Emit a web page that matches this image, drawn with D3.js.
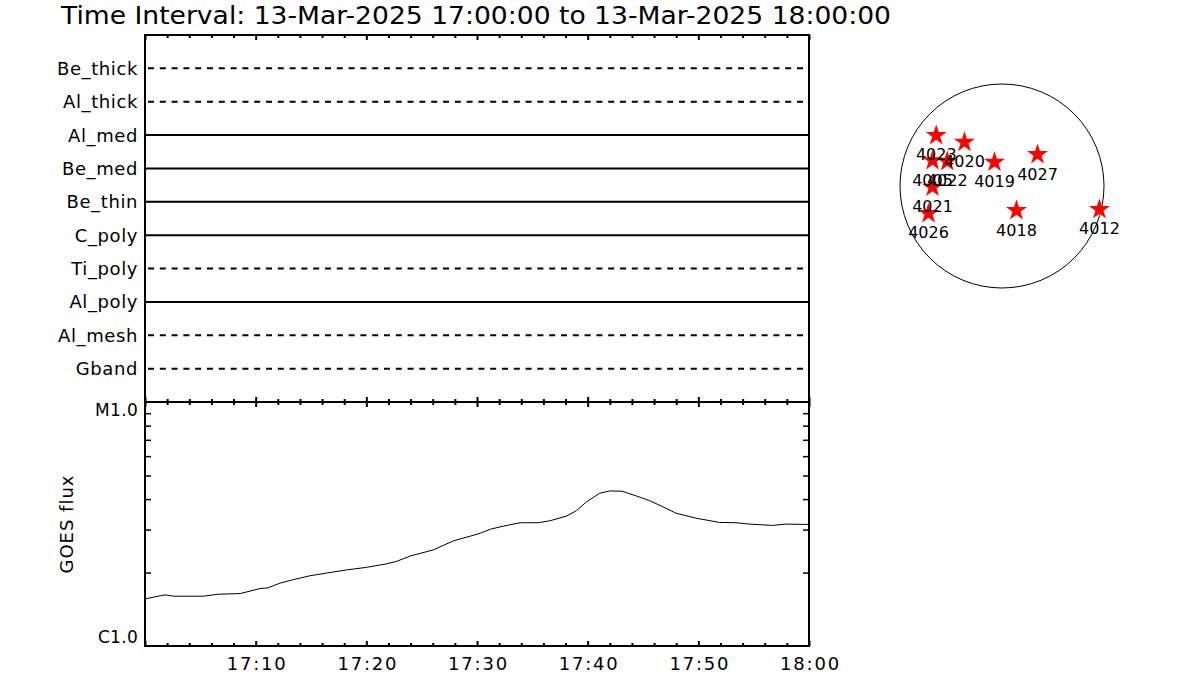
<!DOCTYPE html>
<html><head><meta charset="utf-8">
<script src="https://cdn.jsdelivr.net/npm/d3@7"></script>
<style>body{margin:0;background:#fff} svg{display:block} text{font-family:"DejaVu Sans",sans-serif;fill:#000}</style>
</head><body><svg id="c" width="1200" height="700"></svg>
<script>
// ---------- data ----------
const titleText = "Time Interval: 13-Mar-2025 17:00:00 to 13-Mar-2025 18:00:00";
const startTime = "2025-03-13T17:00:00Z";
const endTime = "2025-03-13T18:00:00Z";
const channels = ["Be_thick","Al_thick","Al_med","Be_med","Be_thin","C_poly","Ti_poly","Al_poly","Al_mesh","Gband"];
const channelDashed = [true,true,false,false,false,false,true,false,true,true];
const channelStartMin = [0,0,0,0,0,0,0,0,0,0];
const channelEndMin = [60,60,60,60,60,60,60,60,60,60];
// GOES flux (units of 1e-6 W/m^2, i.e. C-class) vs minutes after 17:00
const goesMinutes = [0,1.8,2.6,5.3,6.6,8.6,10.4,11.1,12.2,13.4,14.9,16.4,18.2,20.0,21.8,22.7,24.0,26.1,27.0,27.9,29.4,30.3,31.2,32.4,33.9,35.5,36.6,38.1,39.0,39.9,41.1,42.0,43.1,44.4,45.6,46.8,48.0,49.8,51.9,53.4,54.6,56.7,57.9,59.6,60];
const goesFlux = [1.56,1.62,1.60,1.60,1.63,1.64,1.72,1.73,1.81,1.87,1.94,1.99,2.05,2.10,2.17,2.22,2.34,2.48,2.59,2.70,2.82,2.90,3.01,3.10,3.20,3.20,3.26,3.41,3.59,3.90,4.23,4.32,4.31,4.12,3.94,3.72,3.50,3.34,3.21,3.20,3.16,3.12,3.16,3.15,3.15];
const yTickLabels = ["C1.0","M1.0"];
const yTickValues = [1,10];
const yMinorValues = [2,3,4,5,6,7,8,9];
// active regions on the disk (arcsec from disk centre, solar radius = 965")
const arNames = ["4023","4020","4005","4022","4019","4027","4021","4026","4018","4012"];
const arX = [-622,-355,-657,-518,-71,336,-657,-695,137,922];
const arY = [478,414,241,232,225,298,-11,-260,-232,-222];
const solarRadius = 965;

// ---------- layout ----------
const svg = d3.select("#c");
const L = 145, R = 809, T = 35, M = 402, B = 646;
const t0 = new Date(startTime), t1 = new Date(endTime);
const x = d3.scaleUtc().domain([t0, t1]).range([L, R]);
const tm = m => new Date(t0.getTime() + m * 60000);
const majorTicks = d3.utcMinute.every(10).range(t0, new Date(t1.getTime()+1));
const minorTicks = d3.utcMinute.every(2).range(t0, new Date(t1.getTime()+1)).filter(d => d.getUTCMinutes() % 10 !== 0);

// title
svg.append("text").attr("x", 61).attr("y", 24).attr("font-size", 24)
  .attr("textLength", 830).attr("lengthAdjust", "spacingAndGlyphs").text(titleText);

// top panel
const yc = d3.scaleLinear().domain([0, channels.length + 1]).range([T, M]);
const topPanel = svg.append("g");
channels.forEach((c, i) => {
  topPanel.append("line")
    .attr("x1", x(tm(channelStartMin[i]))).attr("x2", x(tm(channelEndMin[i])))
    .attr("y1", yc(i + 1)).attr("y2", yc(i + 1))
    .attr("stroke", "#000").attr("stroke-width", 2)
    .attr("stroke-dasharray", channelDashed[i] ? "6,5.8" : null)
    .attr("stroke-dashoffset", channelDashed[i] ? -3 : null);
  topPanel.append("text").attr("x", 138).attr("y", yc(i + 1)).attr("dy", "0.36em")
    .attr("text-anchor", "end").attr("font-size", 18).attr("letter-spacing", 0.6).text(c);
});

function tickAxis(gen, y, vals, size) {
  svg.append("g").attr("transform", `translate(0,${y})`)
    .call(gen(x).tickValues(vals).tickSize(size).tickSizeOuter(0).tickFormat(""))
    .call(g => g.select(".domain").remove())
    .call(g => g.selectAll("line").attr("stroke-width", 2));
}
// top edge of top panel (ticks down)
tickAxis(d3.axisBottom, T, majorTicks, 5);
tickAxis(d3.axisBottom, T, minorTicks, 3);
// shared middle edge (ticks up and down)
tickAxis(d3.axisBottom, M, majorTicks, 5);
tickAxis(d3.axisBottom, M, minorTicks, 3);
tickAxis(d3.axisTop, M, majorTicks, 5);
tickAxis(d3.axisTop, M, minorTicks, 3);
// bottom edge (ticks up)
tickAxis(d3.axisTop, B, majorTicks, 5);
tickAxis(d3.axisTop, B, minorTicks, 3);

// bottom axis labels
svg.append("g").attr("transform", `translate(0,${B})`)
  .call(d3.axisBottom(x).tickValues(majorTicks.filter(d => d > t0)).tickSize(0).tickPadding(11)
    .tickFormat(d3.utcFormat("%H:%M")))
  .call(g => g.select(".domain").remove())
  .call(g => g.selectAll("text").attr("font-size", 18).attr("font-family", "DejaVu Sans")
    .attr("letter-spacing", 1.8).attr("dx", 1));

// bottom panel (log flux)
const y = d3.scaleLog().domain([1, 10]).range([B, M]);
svg.append("g").attr("transform", `translate(${L},0)`)
  .call(d3.axisLeft(y).tickValues(yMinorValues).tickSize(-6).tickFormat(""))
  .call(g => g.select(".domain").remove())
  .call(g => g.selectAll("line").attr("stroke-width", 1.5));
svg.append("g").attr("transform", `translate(${R},0)`)
  .call(d3.axisRight(y).tickValues(yMinorValues).tickSize(-6).tickFormat(""))
  .call(g => g.select(".domain").remove())
  .call(g => g.selectAll("line").attr("stroke-width", 1.5));
yTickValues.forEach((v, i) => {
  svg.append("text").attr("x", 138).attr("y", y(v) + (v === 10 ? 14 : -3))
    .attr("text-anchor", "end").attr("font-size", 17).attr("letter-spacing", 0.3).text(yTickLabels[i]);
});
svg.append("text").attr("transform", `translate(73,${(M + B) / 2}) rotate(-90)`)
  .attr("text-anchor", "middle").attr("font-size", 18).attr("letter-spacing", 1).text("GOES flux");

const line = d3.line().x((d, i) => x(tm(goesMinutes[i]))).y((d) => y(d)).curve(d3.curveLinear);
svg.append("path").datum(goesFlux).attr("d", line)
  .attr("fill", "none").attr("stroke", "#000").attr("stroke-width", 1);

// frames
svg.append("rect").attr("x", L).attr("y", T).attr("width", R - L).attr("height", M - T)
  .attr("fill", "none").attr("stroke", "#000").attr("stroke-width", 2);
svg.append("rect").attr("x", L).attr("y", M).attr("width", R - L).attr("height", B - M)
  .attr("fill", "none").attr("stroke", "#000").attr("stroke-width", 2);

// solar disk
const cx = 1002, cy = 186, rad = 102;
const dx = d3.scaleLinear().domain([-solarRadius, solarRadius]).range([cx - rad, cx + rad]);
const dy = d3.scaleLinear().domain([-solarRadius, solarRadius]).range([cy + rad, cy - rad]);
svg.append("circle").attr("cx", dx(0)).attr("cy", dy(0)).attr("r", dx(solarRadius) - dx(0))
  .attr("fill", "none").attr("stroke", "#000").attr("stroke-width", 1);
const star = d3.symbol().type(d3.symbolStar).size(136);
arNames.forEach((n, i) => {
  svg.append("path").attr("d", star()).attr("transform", `translate(${dx(arX[i])},${dy(arY[i])})`)
    .attr("fill", "#ff0000");
});
arNames.forEach((n, i) => {
  svg.append("text").attr("x", dx(arX[i])).attr("y", dy(arY[i]) + 25)
    .attr("text-anchor", "middle").attr("font-size", 16).text(n);
});
</script></body></html>
